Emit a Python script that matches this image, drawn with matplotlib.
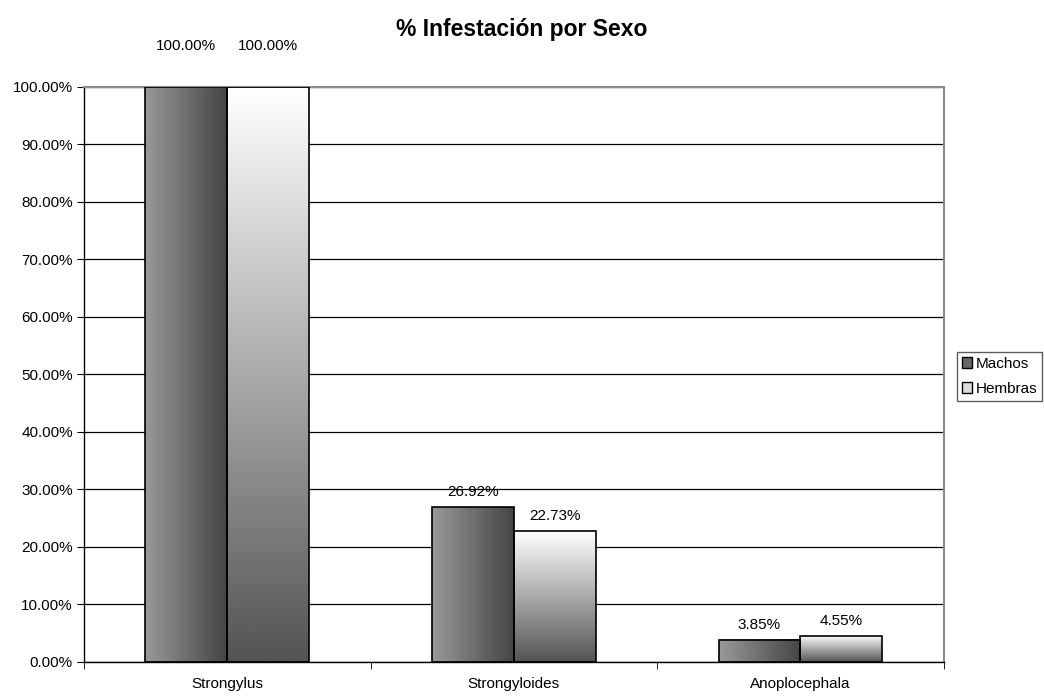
import numpy as np
import matplotlib.pyplot as plt
from matplotlib.ticker import FixedLocator
from matplotlib.transforms import offset_copy

plt.rcParams['font.family'] = ['Liberation Sans', 'DejaVu Sans']

categories = ['Strongylus', 'Strongyloides', 'Anoplocephala']
machos = [100.00, 26.92, 3.85]
hembras = [100.00, 22.73, 4.55]
series_names = ['Machos', 'Hembras']

fig = plt.figure(figsize=(10.44, 6.96), dpi=100)
ax = fig.add_axes([0.0805, 0.049, 0.8235, 0.826])

x = np.arange(len(categories))
w = 0.286

# horizontal gradient for machos, vertical for hembras
grad_h = np.linspace(0.6, 0.27, 256).reshape(1, -1)
grad_v = np.linspace(0.33, 1.0, 256).reshape(-1, 1)


def label(xc, v):
    # labels of full-height bars sit above the plot area
    off = 27 if v >= 100 else 8
    tr = offset_copy(ax.transData, fig=fig, y=off, units='points')
    ax.text(xc, v, f'{v:.2f}%', ha='center', va='baseline',
            fontsize=11, transform=tr, clip_on=False)


for i in range(len(categories)):
    # machos
    x0, x1 = x[i] - w, x[i]
    ax.imshow(grad_h, cmap='gray', vmin=0, vmax=1, aspect='auto',
              extent=(x0, x1, 0, machos[i]), origin='lower', zorder=2)
    ax.bar(x0, machos[i], width=w, align='edge', fill=False,
           edgecolor='black', linewidth=1.2, zorder=3)
    label(x[i] - w / 2, machos[i])
    # hembras
    x0, x1 = x[i], x[i] + w
    ax.imshow(grad_v, cmap='gray', vmin=0, vmax=1, aspect='auto',
              extent=(x0, x1, 0, hembras[i]), origin='lower', zorder=2)
    ax.bar(x0, hembras[i], width=w, align='edge', fill=False,
           edgecolor='black', linewidth=1.2, zorder=3)
    label(x[i] + w / 2, hembras[i])

ax.set_xlim(-0.5, len(categories) - 0.5)
ax.set_ylim(0, 100)
ax.set_yticks(np.arange(0, 101, 10))
ax.set_yticklabels([f'{v:.2f}%' for v in np.arange(0, 101, 10)], fontsize=11)
ax.set_xticks(x)
ax.set_xticklabels(categories, fontsize=11)
ax.xaxis.set_minor_locator(FixedLocator(np.arange(-0.5, len(categories), 1.0)))
ax.tick_params(axis='x', which='major', length=0, pad=11)
ax.tick_params(axis='x', which='minor', length=5, direction='out', color='black')
ax.tick_params(axis='y', length=5, direction='out', color='black', pad=3)
ax.grid(axis='y', color='black', linewidth=0.9, zorder=0)
ax.set_axisbelow(True)
for s in ['top', 'right']:
    ax.spines[s].set_color('#8c8c8c')
    ax.spines[s].set_linewidth(1.5)
for s in ['left', 'bottom']:
    ax.spines[s].set_color('black')
    ax.spines[s].set_linewidth(1.0)

fig.text(0.5, 0.958, '% Infestación por Sexo', ha='center', va='center',
         fontsize=16.5, fontweight='bold')

h1 = plt.Rectangle((0, 0), 1, 1, facecolor='#666666', edgecolor='black')
h2 = plt.Rectangle((0, 0), 1, 1, facecolor='#dddddd', edgecolor='black')
leg = fig.legend([h1, h2], series_names, loc='upper left',
                 bbox_to_anchor=(957 / 1044, 1 - 352 / 696),
                 fontsize=11, frameon=True, fancybox=False, edgecolor='#333333',
                 handlelength=0.7, handleheight=0.7, handletextpad=0.2,
                 borderpad=0.3, borderaxespad=0, labelspacing=0.75)
leg.get_frame().set_linewidth(1.0)

fig.savefig('out.png', dpi=100)
